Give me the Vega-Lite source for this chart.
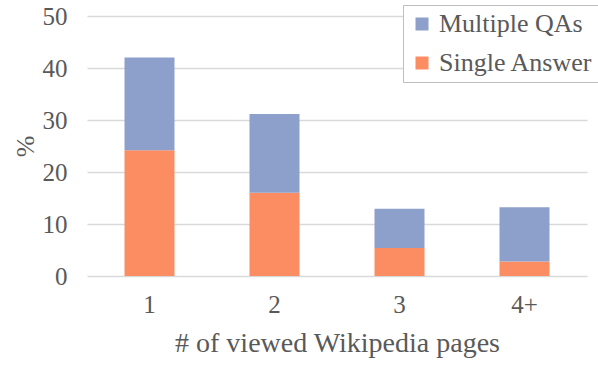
{
  "$schema": "https://vega.github.io/schema/vega-lite/v6.json",
  "width": 500,
  "height": 260,
  "autosize": {"type": "none"},
  "padding": {"left": 87, "top": 16, "right": 11, "bottom": 96},
  "background": "white",
  "config": {
    "view": {"stroke": null},
    "font": "Liberation Serif"
  },
  "data": {
    "values": [
      {"pages": "1", "type": "Single Answer", "value": 24.2},
      {"pages": "1", "type": "Multiple QAs", "value": 17.8},
      {"pages": "2", "type": "Single Answer", "value": 16.0},
      {"pages": "2", "type": "Multiple QAs", "value": 15.15},
      {"pages": "3", "type": "Single Answer", "value": 5.4},
      {"pages": "3", "type": "Multiple QAs", "value": 7.55},
      {"pages": "4+", "type": "Single Answer", "value": 2.8},
      {"pages": "4+", "type": "Multiple QAs", "value": 10.4}
    ]
  },
  "mark": {"type": "bar"},
  "encoding": {
    "x": {
      "field": "pages",
      "type": "nominal",
      "sort": ["1", "2", "3", "4+"],
      "scale": {"paddingInner": 0.6, "paddingOuter": 0.3},
      "axis": {
        "title": "# of viewed Wikipedia pages",
        "titleFont": "Liberation Serif",
        "titleFontSize": 28,
        "titleFontWeight": "normal",
        "titleColor": "#595959",
        "titlePadding": 12,
        "labelFont": "Liberation Serif",
        "labelColor": "#595959",
        "labelFontSize": 25,
        "labelAngle": 0,
        "labelPadding": 16,
        "ticks": false,
        "domain": false
      }
    },
    "y": {
      "field": "value",
      "type": "quantitative",
      "stack": "zero",
      "scale": {"domain": [0, 50], "nice": false},
      "axis": {
        "title": "%",
        "titleFont": "Liberation Serif",
        "titleFontSize": 26,
        "titleFontWeight": "normal",
        "titleColor": "#595959",
        "titlePadding": 4,
        "labelFont": "Liberation Serif",
        "labelColor": "#595959",
        "labelFontSize": 25,
        "labelPadding": 20,
        "labelOverlap": false,
        "values": [0, 10, 20, 30, 40, 50],
        "ticks": false,
        "domain": false,
        "grid": true,
        "gridColor": "#d9d9d9",
        "gridWidth": 1.3
      }
    },
    "color": {
      "field": "type",
      "type": "nominal",
      "scale": {"domain": ["Multiple QAs", "Single Answer"], "range": ["#8da0cb", "#fc8d62"]},
      "legend": {
        "title": null,
        "orient": "none",
        "legendX": 316,
        "legendY": -11,
        "symbolType": "square",
        "symbolSize": 169,
        "symbolStrokeWidth": 0,
        "labelFont": "Liberation Serif",
        "labelFontSize": 26,
        "labelLimit": 300,
        "labelColor": "#595959",
        "labelOffset": 4,
        "rowPadding": 13,
        "padding": 6,
        "fillColor": "white",
        "strokeColor": "#bfbfbf"
      }
    },
    "order": {"field": "type", "sort": "descending"}
  }
}
